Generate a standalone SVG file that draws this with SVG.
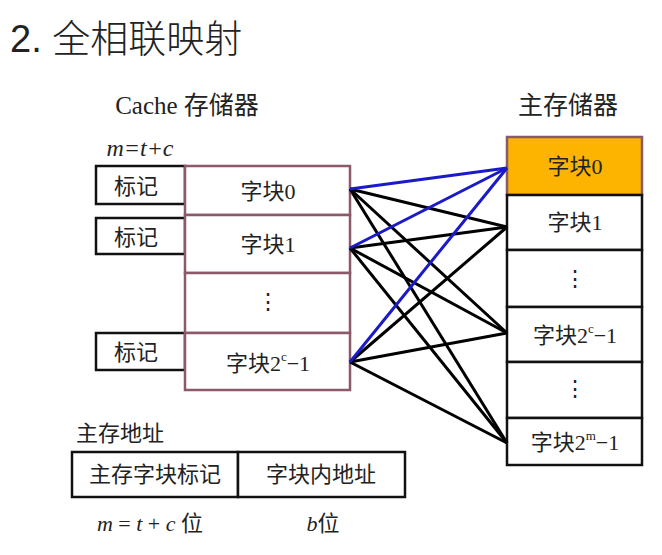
<svg xmlns="http://www.w3.org/2000/svg" width="662" height="555" viewBox="0 0 662 555">
<style>
text{font-family:"Liberation Serif","Noto Sans CJK SC",serif;fill:#222;text-anchor:middle}
.cj{font-size:22px}
.blk{fill:#fff;stroke:#8b5a6a;stroke-width:2.5}
.mm{fill:#fff;stroke:#111;stroke-width:2.5}
.tag{fill:#fff;stroke:#111;stroke-width:2.5}
.b{stroke:#1a1ac8;stroke-width:3}
.k{stroke:#000;stroke-width:3}
</style>
<rect width="662" height="555" fill="#fff"/>
<text x="10" y="52" style="font-family:'Liberation Sans','Noto Sans CJK SC',sans-serif;font-size:38px;text-anchor:start;font-weight:300">2. 全相联映射</text>
<text x="187" y="114" class="cj" style="font-size:25px">Cache 存储器</text>
<text x="568" y="114" class="cj" style="font-size:25px">主存储器</text>
<text x="140" y="156" style="font-size:24px;font-style:italic">m=t+c</text>
<g id="tags">
<rect class="tag" x="96" y="166" width="89" height="38"/><text x="136" y="194" class="cj">标记</text>
<rect class="tag" x="96" y="218" width="89" height="36"/><text x="136" y="245" class="cj">标记</text>
<rect class="tag" x="96" y="333" width="89" height="37"/><text x="136" y="360" class="cj">标记</text>
</g>
<g id="cache">
<rect class="blk" x="185" y="166" width="165" height="49"/><text x="268" y="199" class="cj">字块0</text>
<rect class="blk" x="185" y="215" width="165" height="58"/><text x="268" y="252" class="cj">字块1</text>
<rect class="blk" x="185" y="273" width="165" height="60"/><text x="268" y="309" class="cj">⋮</text>
<rect class="blk" x="185" y="333" width="165" height="57"/><text x="268" y="371" class="cj">字块2<tspan font-size="13" dy="-10">c</tspan><tspan dy="10">−1</tspan></text>
</g>
<g id="main">
<rect x="507" y="137" width="135" height="58" fill="#fdb400" stroke="#8b5a6a" stroke-width="2.5"/><text x="575" y="174" class="cj">字块0</text>
<rect class="mm" x="507" y="195" width="135" height="55"/><text x="575" y="230" class="cj">字块1</text>
<rect class="mm" x="507" y="250" width="135" height="57"/><text x="575" y="286" class="cj">⋮</text>
<rect class="mm" x="507" y="307" width="135" height="55"/><text x="575" y="343" class="cj">字块2<tspan font-size="13" dy="-10">c</tspan><tspan dy="10">−1</tspan></text>
<rect class="mm" x="507" y="362" width="135" height="56"/><text x="575" y="396" class="cj">⋮</text>
<rect class="mm" x="507" y="418" width="135" height="47"/><text x="575" y="450" class="cj">字块2<tspan font-size="13" dy="-10">m</tspan><tspan dy="10">−1</tspan></text>
</g>
<g id="connectors">
<line class="k" x1="350" y1="189" x2="507" y2="227"/><line class="k" x1="350" y1="189" x2="507" y2="333"/><line class="k" x1="350" y1="189" x2="507" y2="443"/>
<line class="k" x1="350" y1="248" x2="507" y2="227"/><line class="k" x1="350" y1="248" x2="507" y2="333"/><line class="k" x1="350" y1="248" x2="507" y2="443"/>
<line class="k" x1="350" y1="362" x2="507" y2="227"/><line class="k" x1="350" y1="362" x2="507" y2="333"/><line class="k" x1="350" y1="362" x2="507" y2="443"/>
<line class="b" x1="350" y1="189" x2="507" y2="168"/><line class="b" x1="350" y1="248" x2="507" y2="168"/><line class="b" x1="350" y1="362" x2="507" y2="168"/>
</g>
<text x="120" y="441" class="cj">主存地址</text>
<g id="addr">
<rect class="tag" x="72" y="452" width="166" height="45"/><text x="155" y="482" class="cj">主存字块标记</text>
<rect class="tag" x="238" y="452" width="167" height="45"/><text x="321" y="482" class="cj">字块内地址</text>
</g>
<text x="150" y="531" class="cj"><tspan font-style="italic">m</tspan> = <tspan font-style="italic">t</tspan> + <tspan font-style="italic">c</tspan> 位</text>
<text x="323" y="531" class="cj"><tspan font-style="italic">b</tspan>位</text>
</svg>
